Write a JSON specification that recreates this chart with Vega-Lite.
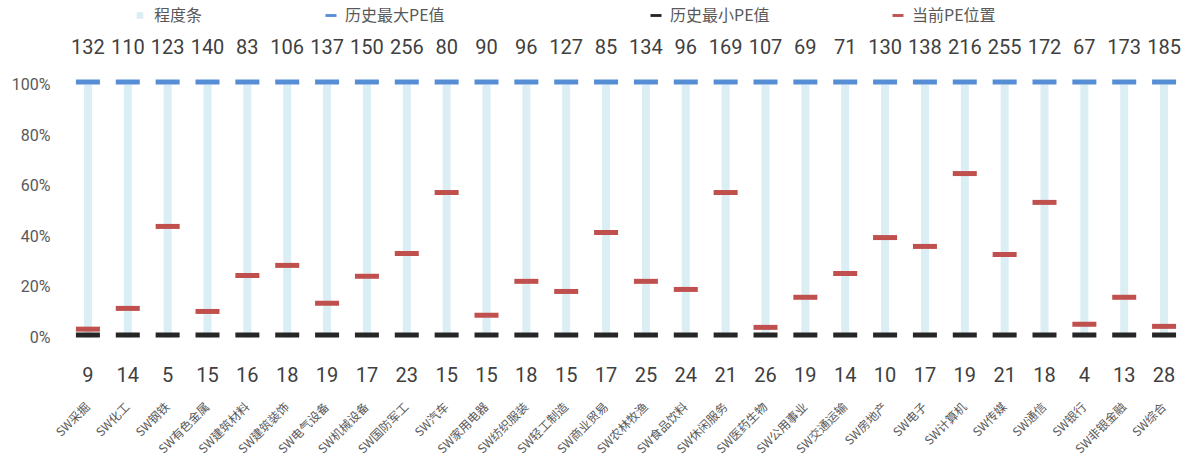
{
  "$schema": "https://vega.github.io/schema/vega-lite/v6.json",
  "autosize": "none",
  "width": 1116,
  "height": 253,
  "padding": {"left": 68, "top": 84.5, "right": 6, "bottom": 119.5},
  "background": "white",
  "config": {
    "view": {"stroke": null},
    "font": "Noto Sans CJK SC"
  },
  "data": {
    "values": [
      {"industry": "SW采掘", "pe_max": 132, "pe_min": 9, "position": 0.033},
      {"industry": "SW化工", "pe_max": 110, "pe_min": 14, "position": 0.115},
      {"industry": "SW钢铁", "pe_max": 123, "pe_min": 5, "position": 0.439},
      {"industry": "SW有色金属", "pe_max": 140, "pe_min": 15, "position": 0.103},
      {"industry": "SW建筑材料", "pe_max": 83, "pe_min": 16, "position": 0.245},
      {"industry": "SW建筑装饰", "pe_max": 106, "pe_min": 18, "position": 0.285},
      {"industry": "SW电气设备", "pe_max": 137, "pe_min": 19, "position": 0.135},
      {"industry": "SW机械设备", "pe_max": 150, "pe_min": 17, "position": 0.242},
      {"industry": "SW国防军工", "pe_max": 256, "pe_min": 23, "position": 0.332},
      {"industry": "SW汽车", "pe_max": 80, "pe_min": 15, "position": 0.573},
      {"industry": "SW家用电器", "pe_max": 90, "pe_min": 15, "position": 0.088},
      {"industry": "SW纺织服装", "pe_max": 96, "pe_min": 18, "position": 0.222},
      {"industry": "SW轻工制造", "pe_max": 127, "pe_min": 15, "position": 0.182},
      {"industry": "SW商业贸易", "pe_max": 85, "pe_min": 17, "position": 0.415},
      {"industry": "SW农林牧渔", "pe_max": 134, "pe_min": 25, "position": 0.222},
      {"industry": "SW食品饮料", "pe_max": 96, "pe_min": 24, "position": 0.19},
      {"industry": "SW休闲服务", "pe_max": 169, "pe_min": 21, "position": 0.573},
      {"industry": "SW医药生物", "pe_max": 107, "pe_min": 26, "position": 0.04},
      {"industry": "SW公用事业", "pe_max": 69, "pe_min": 19, "position": 0.159},
      {"industry": "SW交通运输", "pe_max": 71, "pe_min": 14, "position": 0.253},
      {"industry": "SW房地产", "pe_max": 130, "pe_min": 10, "position": 0.395},
      {"industry": "SW电子", "pe_max": 138, "pe_min": 17, "position": 0.36},
      {"industry": "SW计算机", "pe_max": 216, "pe_min": 19, "position": 0.648},
      {"industry": "SW传媒", "pe_max": 255, "pe_min": 21, "position": 0.328},
      {"industry": "SW通信", "pe_max": 172, "pe_min": 18, "position": 0.534},
      {"industry": "SW银行", "pe_max": 67, "pe_min": 4, "position": 0.052},
      {"industry": "SW非银金融", "pe_max": 173, "pe_min": 13, "position": 0.159},
      {"industry": "SW综合", "pe_max": 185, "pe_min": 28, "position": 0.044}
    ]
  },
  "encoding": {
    "x": {
      "field": "industry",
      "type": "nominal",
      "sort": null,
      "scale": {"paddingInner": 0, "paddingOuter": 0},
      "axis": {
        "title": null,
        "domain": false,
        "ticks": false,
        "labelAngle": -45,
        "labelAlign": "right",
        "labelBaseline": "middle",
        "labelPadding": 67,
        "labelDx": -2,
        "labelFont": "Noto Sans CJK SC",
        "labelFontSize": 12,
        "labelColor": "#595959",
        "labelLimit": 200,
        "labelOverlap": false
      }
    }
  },
  "layer": [
    {
      "mark": {"type": "bar", "size": 8},
      "encoding": {
        "y": {"datum": 1, "type": "quantitative", "scale": {"domain": [0, 1], "nice": false}},
        "y2": {"datum": 0},
        "color": {
          "datum": "程度条",
          "scale": {"domain": ["程度条", "历史最大PE值"], "range": ["#DAEEF3", "#558ED5"]},
          "legend": {
            "orient": "none",
            "legendX": 64,
            "legendY": -77,
            "direction": "horizontal",
            "title": null,
            "columnPadding": 120,
            "labelOffset": 6,
            "labelFont": "Noto Sans CJK SC",
            "labelFontSize": 16,
            "labelColor": "#595959",
            "symbolSize": 121,
            "symbolStrokeWidth": 0,
            "symbolOpacity": 1,
            "encode": {
              "symbols": {
                "update": {
                  "shape": {"signal": "datum.value === '程度条' ? 'M-0.6,-0.6H0.6V0.6H-0.6Z' : 'M-1,-0.26H1V0.26H-1Z'"},
                  "fill": {"signal": "scale('color', datum.value)"},
                  "strokeWidth": {"value": 0}
                }
              }
            }
          }
        }
      }
    },
    {
      "mark": {"type": "tick", "size": 24, "thickness": 5, "yOffset": -2.5, "opacity": 1},
      "encoding": {
        "y": {"datum": 1, "type": "quantitative"},
        "color": {"datum": "历史最大PE值"}
      }
    },
    {
      "mark": {"type": "tick", "size": 24, "thickness": 5, "yOffset": -2.5, "opacity": 1, "filled": true},
      "encoding": {
        "y": {"datum": 0, "type": "quantitative"},
        "fill": {
          "datum": "历史最小PE值",
          "scale": {"domain": ["历史最小PE值", "当前PE位置"], "range": ["#262626", "#C0504D"]},
          "legend": {
            "orient": "none",
            "legendX": 580,
            "legendY": -77,
            "direction": "horizontal",
            "title": null,
            "columnPadding": 120,
            "labelOffset": 6,
            "labelFont": "Noto Sans CJK SC",
            "labelFontSize": 16,
            "labelColor": "#595959",
            "symbolSize": 121,
            "symbolType": "M-1,-0.26H1V0.26H-1Z",
            "symbolStrokeWidth": 0,
            "symbolOpacity": 1
          }
        }
      }
    },
    {
      "mark": {"type": "tick", "size": 24, "thickness": 5, "opacity": 1, "filled": true},
      "encoding": {
        "y": {
          "field": "position",
          "type": "quantitative",
          "axis": {
            "title": null,
            "format": ".0%",
            "values": {"signal": "sequence(0, 1.05, 0.1)"},
            "tickCount": {"signal": "10"},
            "labelOverlap": false,
            "domain": false,
            "ticks": false,
            "labelPadding": 18,
            "labelFont": "Roboto",
            "labelFontSize": 16,
            "labelColor": "#595959",
            "gridColor": "#EFEFEF",
            "gridWidth": 1.5
          }
        },
        "fill": {"datum": "当前PE位置"}
      }
    },
    {
      "mark": {"type": "text", "font": "Roboto", "fontSize": 20, "color": "#404040", "baseline": "middle"},
      "encoding": {
        "y": {"datum": 1.143, "type": "quantitative"},
        "text": {"field": "pe_max", "type": "quantitative"}
      }
    },
    {
      "mark": {"type": "text", "font": "Roboto", "fontSize": 20, "color": "#404040", "baseline": "middle"},
      "encoding": {
        "y": {"datum": -0.151, "type": "quantitative"},
        "text": {"field": "pe_min", "type": "quantitative"}
      }
    }
  ]
}
